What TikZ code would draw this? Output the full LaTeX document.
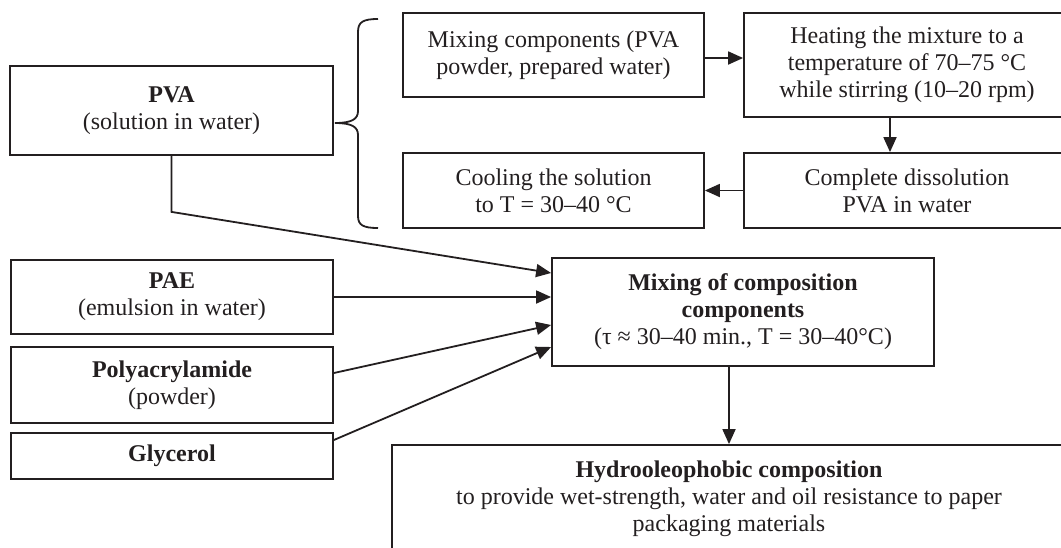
\documentclass[tikz,border=0pt]{standalone}
\usepackage{fontspec}
\setmainfont{Liberation Serif}
\usetikzlibrary{arrows.meta}
\definecolor{ink}{HTML}{231F20}
\tikzset{
  box/.style={draw=ink, line width=1.8pt, inner sep=2pt, align=center, text=ink,
    font=\fontsize{24}{27}\selectfont},
  arr/.style={draw=ink, line width=1.8pt, -{Triangle[length=15pt,width=13pt]}},
  ln/.style={draw=ink, line width=1.8pt}
}
\begin{document}
\begin{tikzpicture}[x=1pt,y=-1pt]
\useasboundingbox (0,0) rectangle (1061,547);
% left column
\node[box, minimum width=323pt, minimum height=89pt] (pva) at (171.5,110.5) {\textbf{PVA}\\(solution in water)};
\node[box, minimum width=322pt, minimum height=74pt] (pae) at (172,297) {\textbf{PAE}\\(emulsion in water)};
\node[box, minimum width=322pt, minimum height=76pt] (pam) at (172,385) {\textbf{Polyacrylamide}\\(powder)};
\node[box, minimum width=322pt, minimum height=46pt] (gly) at (172,456) {\textbf{Glycerol}};
% upper process
\node[box, minimum width=301pt, minimum height=84pt] (mixc) at (553.5,55) {Mixing components (PVA\\powder, prepared water)};
\node[box, minimum width=326pt, minimum height=104pt] (heat) at (907,65) {Heating the mixture to a\\temperature of 70–75 °C\\while stirring (10–20 rpm)};
\node[box, minimum width=301pt, minimum height=75pt] (cool) at (553.5,190.5) {Cooling the solution\\to T = 30–40 °C};
\node[box, minimum width=326pt, minimum height=75pt] (diss) at (907,190.5) {Complete dissolution\\PVA in water};
% mixing and result
\node[box, minimum width=382pt, minimum height=108pt] (mix) at (743,312) {\textbf{Mixing of composition}\\\textbf{components}\\(τ ≈ 30–40 min., T = 30–40°C)};
\node[box, minimum width=674pt, minimum height=108pt] (hyd) at (729,499) {\textbf{Hydrooleophobic composition}\\to provide wet-strength, water and oil resistance to paper\\packaging materials};
% brace
\draw[ln] (378,19) .. controls (363,19) and (358,22) .. (358,32) -- (358,111)
  .. controls (358,119) and (352,123) .. (335,123)
  .. controls (352,123) and (358,127) .. (358,135) -- (358,216)
  .. controls (358,225) and (363,228) .. (378,228);
% process arrows
\draw[arr] ([yshift=-3pt]mixc.east) -- ([yshift=-3pt]mixc.east -| heat.west);
\draw[arr] ([xshift=-17pt]heat.south) -- ([xshift=-17pt]diss.north);
\draw[arr] (diss.west) -- (cool.east);
% inputs
\draw[arr] (pva.south) -- ++(0,56) -- ([yshift=39pt]mix.west);
\draw[arr] (pae.east) -- (pae.east -| mix.west);
\draw[arr] ([yshift=12pt]pam.east) -- ([yshift=-13pt]mix.west);
\draw[arr] ([yshift=16pt]gly.east) -- ([yshift=-35pt]mix.west);
\draw[arr] (mix.south -| hyd.north) -- (hyd.north);
\end{tikzpicture}
\end{document}
